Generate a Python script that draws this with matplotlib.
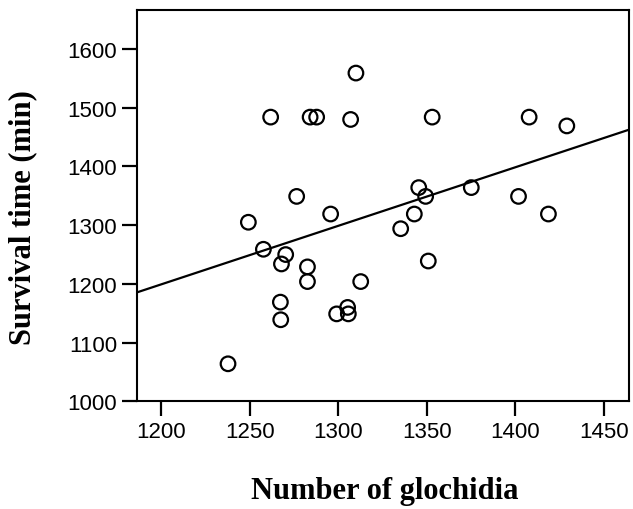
import numpy as np
import matplotlib
matplotlib.use("Agg")
import matplotlib.pyplot as plt

# values
glochidia = [1237.6, 1249.1, 1257.6, 1261.7, 1270.2, 1267.8, 1267.2, 1267.4,
             1276.4, 1282.5, 1282.5, 1284.0, 1287.7, 1295.6, 1299.0, 1305.2,
             1305.6, 1306.9, 1309.9, 1312.6, 1335.2, 1342.9, 1345.4, 1349.3,
             1350.8, 1353.0, 1375.1, 1401.8, 1407.8, 1418.7, 1429.1]
survival = [1064, 1305, 1259, 1484, 1250, 1234, 1169, 1139,
            1349, 1229, 1204, 1484, 1484, 1319, 1149, 1160,
            1149, 1480, 1559, 1204, 1294, 1319, 1364, 1349,
            1239, 1484, 1364, 1349, 1484, 1319, 1469]
# fit line as drawn (slope, intercept)
fit_slope = 0.996
fit_intercept = 4.2

x_ticks = [1200, 1250, 1300, 1350, 1400, 1450]
y_ticks = [1000, 1100, 1200, 1300, 1400, 1500, 1600]
xlim = (1186, 1464)
ylim = (1000, 1666)

fig = plt.figure(figsize=(6.33, 5.10), dpi=100)
ax = fig.add_axes([0.216, 0.211, 0.777, 0.767])

ax.scatter(glochidia, survival, s=110, facecolors='none', edgecolors='black',
           linewidths=1.6, zorder=3)
xx = np.array(xlim)
ax.plot(xx, fit_slope * xx + fit_intercept, color='black', lw=1.6, zorder=2)

ax.set_xlim(*xlim)
ax.set_ylim(*ylim)
ax.set_xticks(x_ticks)
ax.set_yticks(y_ticks)
for s in ax.spines.values():
    s.set_linewidth(1.5)
ax.tick_params(direction='out', length=11, width=1.6, labelsize=16, pad=3)
for lab in ax.get_xticklabels() + ax.get_yticklabels():
    lab.set_family('Liberation Sans')

# axis titles placed on the figure
fig.text(0.608, 0.037, 'Number of glochidia', family='Liberation Serif',
         fontweight='bold', fontsize=22, ha='center', va='center')
fig.text(0.036, 0.573, 'Survival time (min)', family='Liberation Serif',
         fontweight='bold', fontsize=22, ha='center', va='center', rotation=90)

fig.savefig('out.png', dpi=100)
